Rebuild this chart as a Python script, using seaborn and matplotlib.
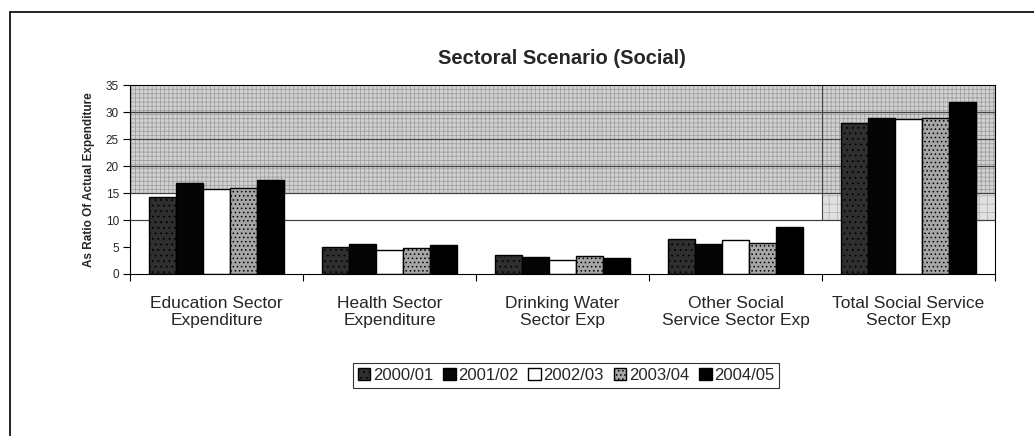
import matplotlib
matplotlib.use("Agg")
import matplotlib.pyplot as plt
import seaborn as sns
import pandas as pd
from matplotlib.lines import Line2D

categories = ["Education Sector\nExpenditure", "Health Sector\nExpenditure",
              "Drinking Water\nSector Exp", "Other Social\nService Sector Exp",
              "Total Social Service\nSector Exp"]
years = ["2000/01", "2001/02", "2002/03", "2003/04", "2004/05"]
v_2000_01 = [14.3, 5.0, 3.6, 6.5, 27.9]
v_2001_02 = [16.8, 5.5, 3.1, 5.5, 28.9]
v_2002_03 = [15.7, 4.5, 2.6, 6.3, 28.7]
v_2003_04 = [16.0, 4.9, 3.4, 5.8, 28.9]
v_2004_05 = [17.4, 5.4, 2.9, 8.7, 31.9]
series = [v_2000_01, v_2001_02, v_2002_03, v_2003_04, v_2004_05]
colors = ["#2f2f2f", "#050505", "#ffffff", "#a6a6a6", "#000000"]
hatches = ["...", None, None, "....", None]

rows = []
for y, vals in zip(years, series):
    for c, v in zip(categories, vals):
        rows.append({"Category": c, "Year": y, "Value": v})
df = pd.DataFrame(rows)

sns.set_theme(style="white")
plt.rcParams["font.family"] = ["Liberation Sans", "DejaVu Sans"]
plt.rcParams["hatch.linewidth"] = 0.6

fig = plt.figure(figsize=(10.34, 4.36), dpi=100)
ax = fig.add_axes([130/1034, 1 - 274/436, (995 - 130)/1034, (274 - 85)/436])

# plot-area background (grey, faded toward the bottom as in the scan)
ax.axhspan(15, 35, facecolor="#d2d2d2", edgecolor="#a0a0a0", hatch="++++", lw=0, zorder=0)
ax.axhspan(10, 15, xmin=0.8, xmax=1.0, facecolor="#e0e0e0", edgecolor="#b5b5b5", hatch="++", lw=0, zorder=0)
for g in [10, 15, 20, 25, 30]:
    ax.axhline(g, color="#444444", lw=0.9, zorder=0.5)
ax.axvline(3.5, ymin=10/35, ymax=1, color="#444444", lw=0.8, zorder=0.5)

sns.barplot(data=df, x="Category", y="Value", hue="Year", palette=colors,
            width=0.78, gap=0, edgecolor="black", linewidth=1.0, ax=ax,
            legend=False, zorder=2)
for bar_container, hatch in zip(ax.containers, hatches):
    for p in bar_container:
        if hatch:
            p.set_hatch(hatch)

ax.set_xlim(-0.5, 4.5)
ax.set_ylim(0, 35)
ax.set_yticks(range(0, 36, 5))
ax.tick_params(axis="y", labelsize=8.5, length=5, width=0.8, color="black", direction="out", left=True, pad=3)
ax.set_xticks(range(len(categories)))
ax.set_xticklabels(categories, fontsize=12.5, linespacing=1.15)
ax.tick_params(axis="x", length=0, pad=16)
ax.set_xticks([i - 0.5 for i in range(len(categories) + 1)], minor=True)
ax.tick_params(axis="x", which="minor", length=5, width=0.8, color="black", bottom=True, direction="out")
ax.set_xlabel("")
ax.set_ylabel("As Ratio Of Actual Expenditure", fontsize=8.5, fontweight="bold", labelpad=8)
for s in ax.spines.values():
    s.set_color("black")
    s.set_linewidth(0.8)

fig.text(562/1034, 1 - 58/436, "Sectoral Scenario (Social)", ha="center", va="center",
         fontsize=14.5, fontweight="bold")

handles = [plt.Rectangle((0, 0), 1, 1, facecolor=c, edgecolor="black", lw=1.0,
                         hatch=h) for c, h in zip(colors, hatches)]
leg = fig.legend(handles, years, loc="center", bbox_to_anchor=(566/1034, 1 - 375/436),
                 ncol=5, frameon=True, fancybox=False, fontsize=12, handlelength=0.75,
                 handleheight=0.75, handletextpad=0.15, columnspacing=0.6, borderpad=0.3,
                 edgecolor="black")
leg.get_frame().set_linewidth(0.8)

# outer chart border
fig.add_artist(Line2D([10/1034, 1.0], [1 - 12/436, 1 - 12/436], color="black", lw=1.2))
fig.add_artist(Line2D([10/1034, 10/1034], [0, 1 - 12/436], color="black", lw=1.2))

fig.savefig("out.png", dpi=100)
